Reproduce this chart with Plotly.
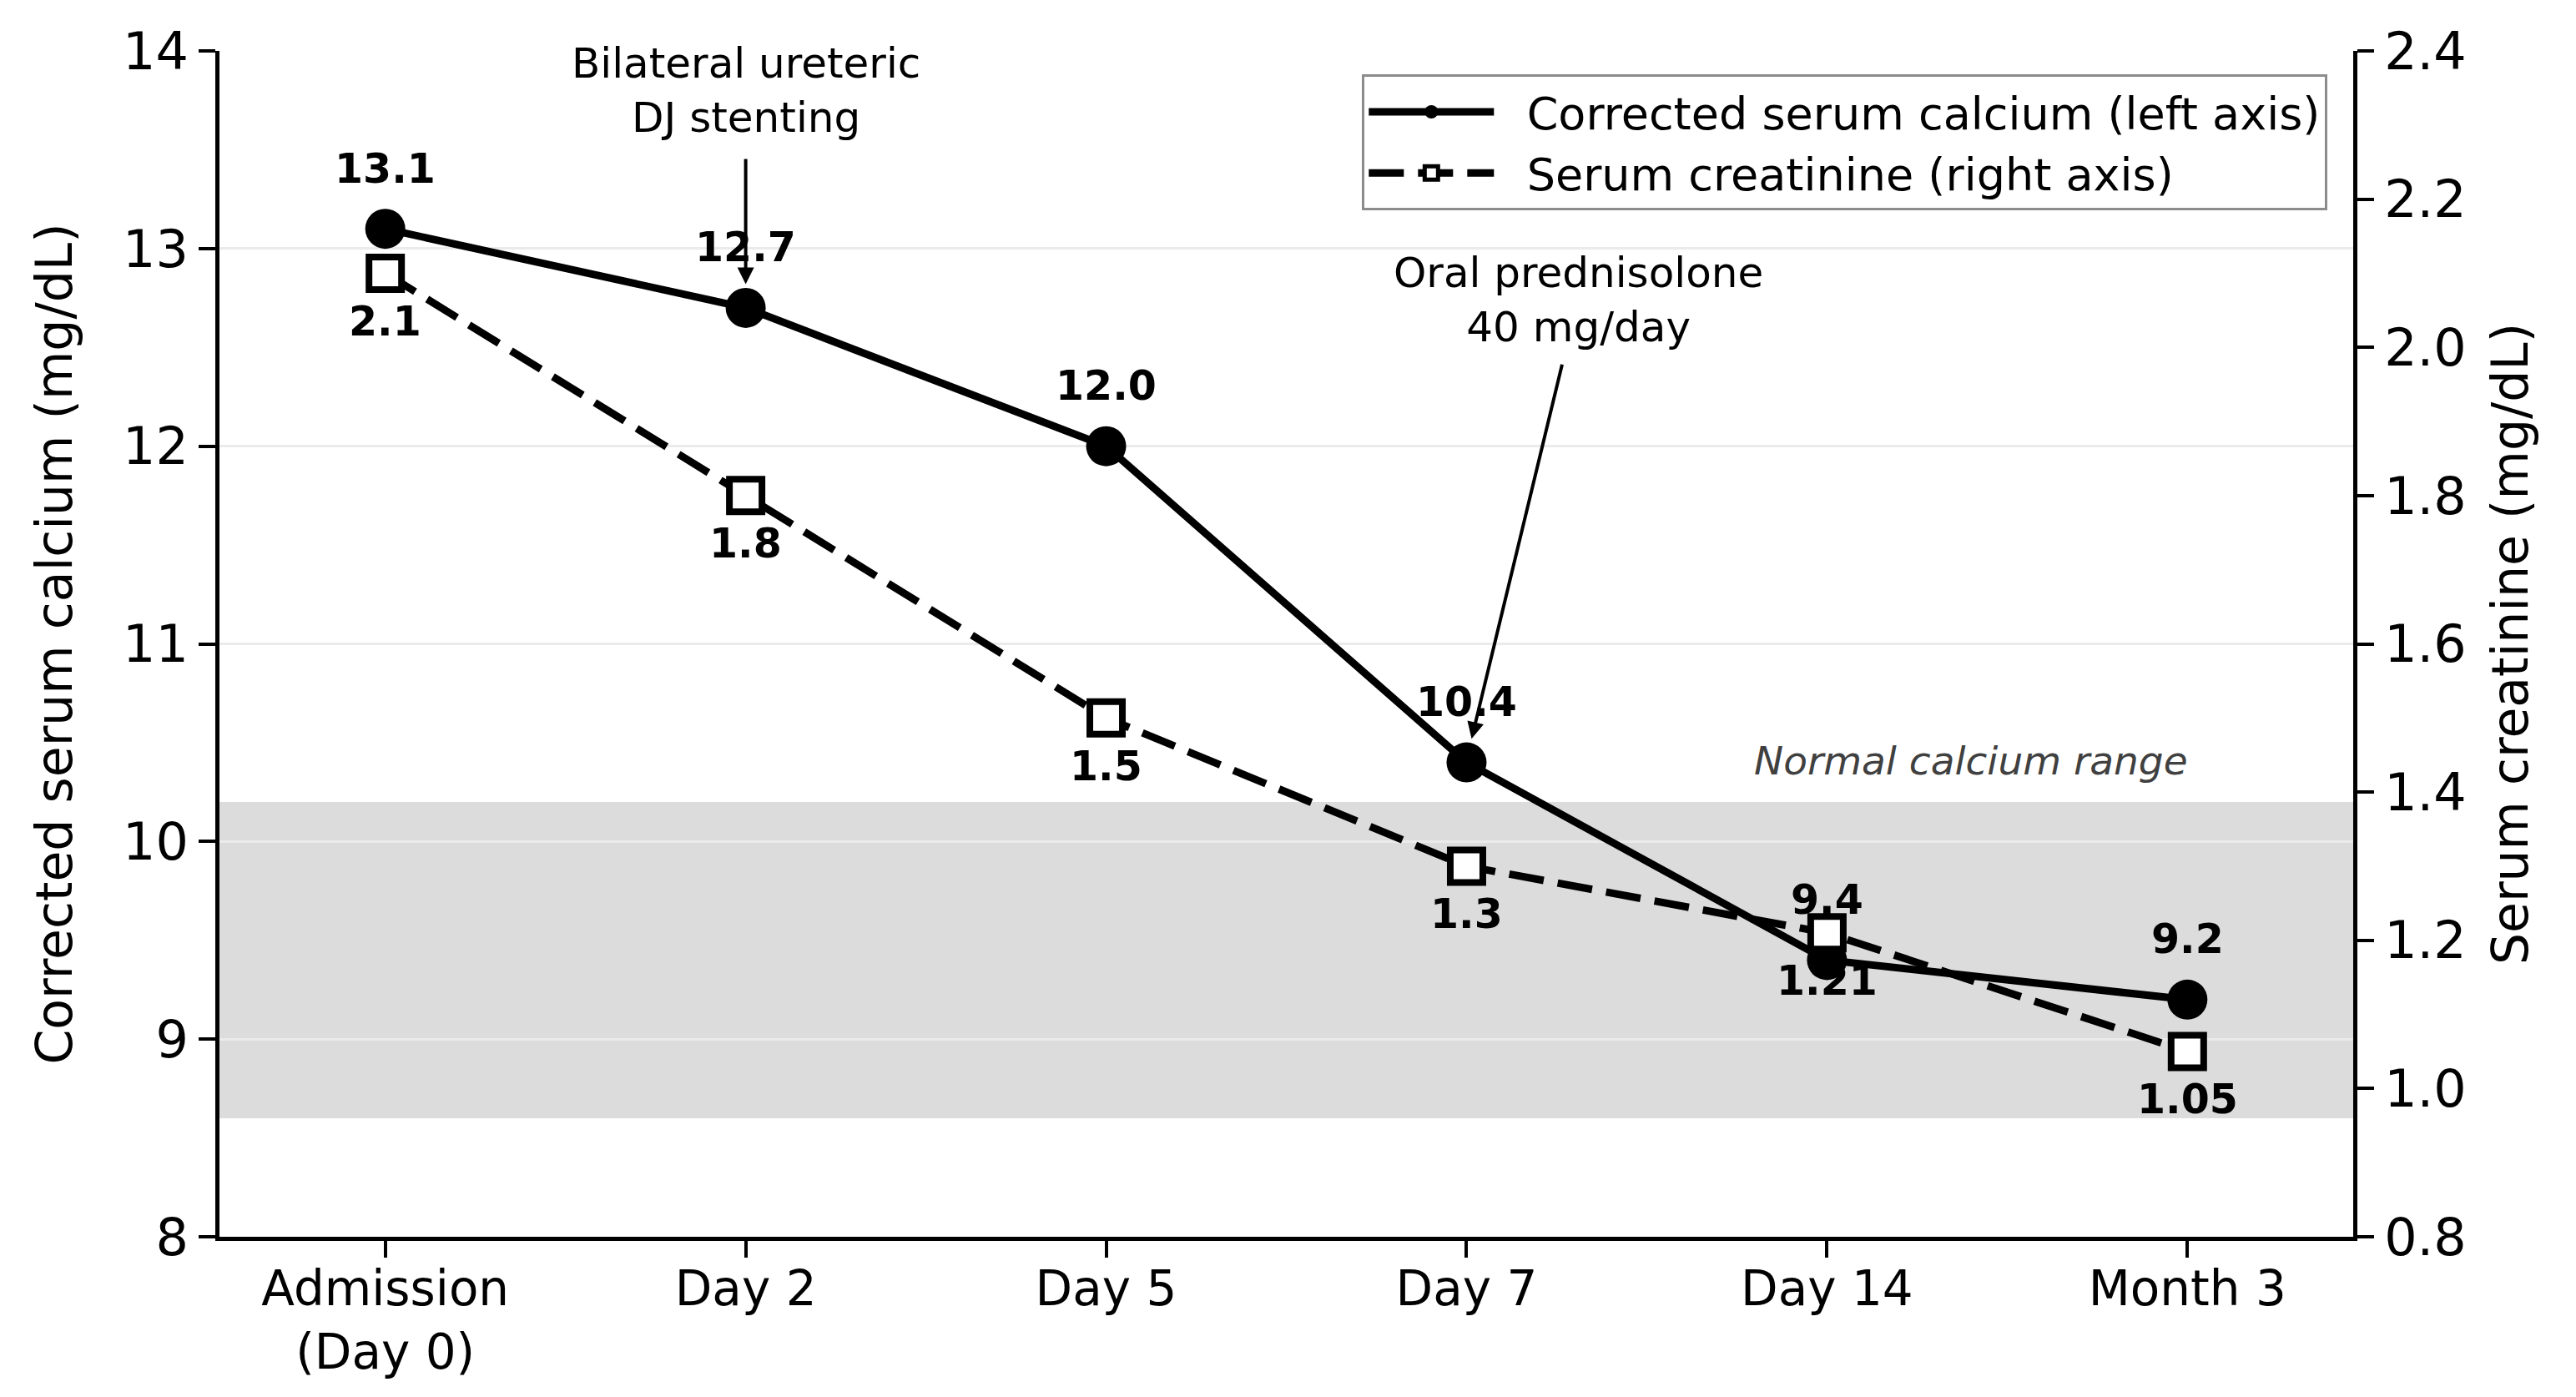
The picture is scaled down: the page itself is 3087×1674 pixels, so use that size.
import plotly.graph_objects as go

categories = ["Admission<br>(Day 0)", "Day 2", "Day 5", "Day 7", "Day 14", "Month 3"]
calcium = [13.1, 12.7, 12.0, 10.4, 9.4, 9.2]
creatinine = [2.1, 1.8, 1.5, 1.3, 1.21, 1.05]
calcium_labels = ["13.1", "12.7", "12.0", "10.4", "9.4", "9.2"]
creatinine_labels = ["2.1", "1.8", "1.5", "1.3", "1.21", "1.05"]
normal_range = [8.6, 10.2]
left_ticks = [8, 9, 10, 11, 12, 13, 14]
right_ticks = [0.8, 1.0, 1.2, 1.4, 1.6, 1.8, 2.0, 2.2, 2.4]

xpos = list(range(len(categories)))
FONT = "DejaVu Sans"
GAP = "\u00a0\u00a0"

fig = go.Figure()
fig.add_trace(go.Scatter(
    x=xpos, y=calcium, mode="lines+markers",
    name=GAP + "Corrected serum calcium (left axis)",
    line=dict(color="black", width=9),
    marker=dict(symbol="circle", size=48, color="black"),
    yaxis="y",
))
fig.add_trace(go.Scatter(
    x=xpos, y=creatinine, mode="lines+markers",
    name=GAP + "Serum creatinine (right axis)",
    line=dict(color="black", width=9, dash="42px,17px"),
    marker=dict(symbol="square", size=39, color="white",
                line=dict(color="black", width=8)),
    yaxis="y2",
))

annotations = []
for xi, v, t in zip(xpos, calcium, calcium_labels):
    annotations.append(dict(x=xi, y=v, xref="x", yref="y", text="<b>%s</b>" % t,
                            showarrow=False, yshift=72, yanchor="middle",
                            font=dict(family=FONT, size=49, color="black")))
for xi, v, t in zip(xpos, creatinine, creatinine_labels):
    annotations.append(dict(x=xi, y=v, xref="x", yref="y2", text="<b>%s</b>" % t,
                            showarrow=False, yshift=-58, yanchor="middle",
                            font=dict(family=FONT, size=49, color="black")))

# intervention annotations
annotations.append(dict(x=1, y=13.80, xref="x", yref="y",
                        text="Bilateral ureteric<br>DJ stenting", showarrow=False,
                        font=dict(family=FONT, size=50, color="black")))
annotations.append(dict(x=1, y=12.82, ax=1, ay=13.46, xref="x", yref="y",
                        axref="x", ayref="y", text="", showarrow=True,
                        arrowhead=2, arrowsize=1, arrowwidth=4, arrowcolor="black"))
annotations.append(dict(x=3.31, y=12.74, xref="x", yref="y",
                        text="Oral prednisolone<br>40 mg/day", showarrow=False,
                        font=dict(family=FONT, size=50, color="black")))
annotations.append(dict(x=3.014, y=10.52, ax=3.266, ay=12.42, xref="x", yref="y",
                        axref="x", ayref="y", text="", showarrow=True,
                        arrowhead=2, arrowsize=1, arrowwidth=4, arrowcolor="black"))
annotations.append(dict(x=4.40, y=10.41, xref="x", yref="y",
                        text="<i>Normal calcium range</i>", showarrow=False,
                        font=dict(family=FONT, size=47, color="#404040")))

fig.add_shape(type="rect", xref="paper", yref="y", x0=0, x1=1,
              y0=normal_range[0], y1=normal_range[1],
              fillcolor="#dcdcdc", line=dict(width=0), layer="below")

fig.update_layout(
    width=3087, height=1674,
    margin=dict(l=255, r=275, t=53, b=200),
    paper_bgcolor="white", plot_bgcolor="white",
    font=dict(family=FONT, size=62, color="black"),
    annotations=annotations,
    showlegend=True,
    legend=dict(x=0.988, y=0.98, xanchor="right", yanchor="top",
                bgcolor="rgba(255,255,255,0.9)", bordercolor="#8c8c8c", borderwidth=3,
                font=dict(family=FONT, size=54, color="black"),
                itemwidth=150, tracegroupgap=0),
    xaxis=dict(
        range=[-0.46, 5.46], tickmode="array", tickvals=xpos, ticktext=categories,
        showgrid=False, zeroline=False,
        showline=True, linecolor="black", linewidth=4.5,
        ticks="outside", ticklen=20, tickwidth=4, tickcolor="black",
        tickfont=dict(family=FONT, size=58), ticklabelstandoff=-12,
    ),
    yaxis=dict(
        range=[8, 14], tickmode="array", tickvals=left_ticks,
        showgrid=True, gridcolor="#ebebeb", gridwidth=3, zeroline=False,
        showline=True, linecolor="black", linewidth=4.5,
        ticks="outside", ticklen=20, tickwidth=4, tickcolor="black",
        tickfont=dict(family=FONT, size=62),
        title=dict(text="Corrected serum calcium (mg/dL)", font=dict(family=FONT, size=60), standoff=42),
    ),
    yaxis2=dict(
        range=[0.8, 2.4], tickmode="array", tickvals=right_ticks, tickformat=".1f",
        overlaying="y", side="right", anchor="x",
        showgrid=False, zeroline=False,
        showline=True, linecolor="black", linewidth=4.5,
        ticks="outside", ticklen=20, tickwidth=4, tickcolor="black",
        tickfont=dict(family=FONT, size=62),
        title=dict(text="Serum creatinine (mg/dL)", font=dict(family=FONT, size=60), standoff=34),
    ),
)

fig.write_html("out.html")
